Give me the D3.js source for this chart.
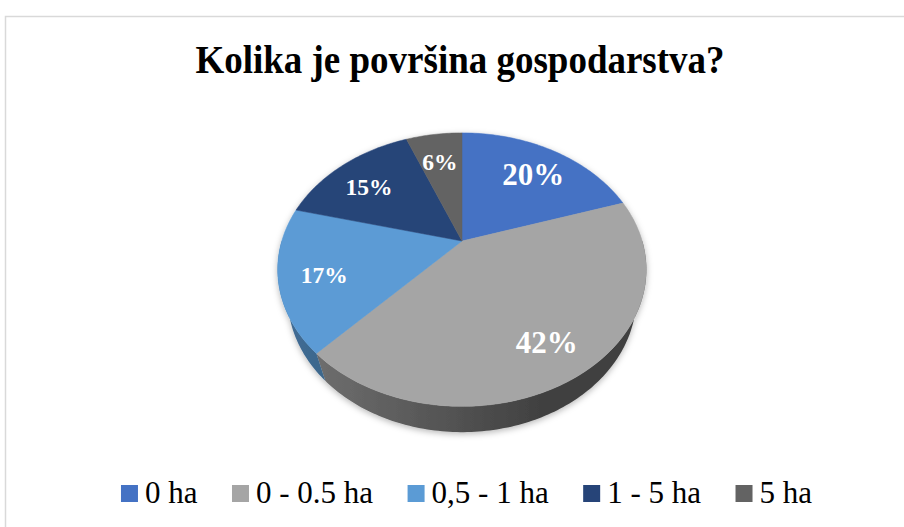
<!DOCTYPE html>
<html>
<head>
<meta charset="utf-8">
<script src="https://cdn.jsdelivr.net/npm/d3@7/dist/d3.min.js"></script>
<style>
  html, body { margin: 0; padding: 0; background: #fff; }
  svg { display: block; }
</style>
</head>
<body>
<svg id="chart" width="904" height="527"></svg>
<script>
// Farm size categories and their shares (percent)
const categories = ["0 ha", "0 - 0.5 ha", "0,5 - 1 ha", "1 - 5 ha", "5 ha"];
const shares = [20, 42, 17, 15, 6];
const colors = ["#4472C4", "#A5A5A5", "#5B9BD5", "#264478", "#636363"];
const title = "Kolika je površina gospodarstva?";

const svg = d3.select("#chart");
const W = 904, H = 527;
const serif = "'Liberation Serif', 'Times New Roman', serif";

// chart-area frame
svg.append("rect")
  .attr("x", 5.5).attr("y", 16.5)
  .attr("width", W + 10).attr("height", H + 10)
  .attr("fill", "#fff").attr("stroke", "#d9d9d9").attr("stroke-width", 1.5);

// title (slightly tall glyphs)
svg.append("text")
  .attr("transform", "translate(460,73) scale(1,1.06)")
  .attr("text-anchor", "middle")
  .attr("font-family", serif)
  .attr("font-weight", "bold")
  .attr("font-size", 37)
  .attr("fill", "#000")
  .text(title);

// --- 3D pie: a tilted disc seen in perspective ---
const view = {
  cx: 462, cy: 241,      // screen position of the disc centre
  k: 593,                // focal scale
  tilt: 46.5 * Math.PI / 180,
  dist: 3.29,            // camera distance (disc radius = 1)
  depth: 0.249           // thickness of the disc
};
const sT = Math.sin(view.tilt), cT = Math.cos(view.tilt);

// angle a measured clockwise from the back (top), radius r, height w
function project(a, r, w) {
  const u = r * Math.sin(a), v = r * Math.cos(a);
  const yc = v * sT + w * cT;
  const zc = view.dist + v * cT - w * sT;
  return [view.cx + view.k * u / zc, view.cy - view.k * yc / zc];
}

const pie = d3.pie().sort(null).value(d => d.value);
const data = categories.map((c, i) => ({ name: c, value: shares[i], color: colors[i] }));
const arcs = pie(data);

const defs = svg.append("defs");
const shadow = defs.append("filter").attr("id", "pieShadow")
  .attr("x", "-10%").attr("y", "-10%").attr("width", "120%").attr("height", "130%");
shadow.append("feDropShadow")
  .attr("dx", 0).attr("dy", 2).attr("stdDeviation", 3)
  .attr("flood-color", "#000").attr("flood-opacity", 0.28);

const pieG = svg.append("g").attr("filter", "url(#pieShadow)");

function sampleAngles(a0, a1) {
  const n = Math.max(2, Math.ceil((a1 - a0) / (Math.PI / 180)));
  return d3.range(n + 1).map(i => a0 + (a1 - a0) * i / n);
}

// side walls: only the front half of the rim is visible
const frontStart = Math.PI / 2, frontEnd = 3 * Math.PI / 2;
arcs.forEach((d, i) => {
  const a0 = Math.max(d.startAngle, frontStart);
  const a1 = Math.min(d.endAngle, frontEnd);
  if (a1 <= a0) return;
  const angles = sampleAngles(a0, a1);
  const top = angles.map(a => project(a, 1, 0));
  const bottom = angles.map(a => project(a, 1, -view.depth)).reverse();
  const gid = "wall" + i;
  const base = d3.color(d.data.color);
  const grad = defs.append("linearGradient").attr("id", gid)
    .attr("gradientUnits", "userSpaceOnUse")
    .attr("x1", 300).attr("y1", 0).attr("x2", 540).attr("y2", 0);
  grad.append("stop").attr("offset", 0).attr("stop-color", base.darker(1.05).formatHex());
  grad.append("stop").attr("offset", 1).attr("stop-color", base.darker(2.6).formatHex());
  pieG.append("path")
    .attr("d", d3.line()(top.concat(bottom)) + "Z")
    .attr("fill", `url(#${gid})`);
});

// top faces
arcs.forEach(d => {
  const pts = [project(0, 0, 0)].concat(sampleAngles(d.startAngle, d.endAngle).map(a => project(a, 1, 0)));
  pieG.append("path")
    .attr("d", d3.line()(pts) + "Z")
    .attr("fill", d.data.color)
    .attr("stroke", d.data.color).attr("stroke-width", 0.5);
});

// percentage labels
arcs.forEach(d => {
  const mid = (d.startAngle + d.endAngle) / 2;
  const [x, y] = project(mid, 0.76, 0);
  const big = d.data.value >= 20;
  svg.append("text")
    .attr("x", x).attr("y", y + 5)
    .attr("text-anchor", "middle")
    .attr("dominant-baseline", "central")
    .attr("font-family", serif)
    .attr("font-weight", "bold")
    .attr("font-size", big ? 31 : 23.5)
    .attr("fill", "#fff")
    .text(d.data.value + "%");
});

// legend
const legend = svg.append("g");
const sq = 17, txtGap = 7, itemGap = 34.5;
let lx = 0;
categories.forEach((c, i) => {
  const g = legend.append("g").attr("transform", `translate(${lx},0)`);
  g.append("rect").attr("x", 0).attr("y", 485).attr("width", sq).attr("height", sq)
    .attr("fill", colors[i]);
  const t = g.append("text")
    .attr("x", sq + txtGap).attr("y", 503)
    .attr("font-family", serif)
    .attr("font-size", 31)
    .attr("fill", "#000")
    .text(c);
  lx += sq + txtGap + t.node().getComputedTextLength() + itemGap;
});
const legendWidth = lx - itemGap;
legend.attr("transform", `translate(${466.5 - legendWidth / 2},0)`);
</script>
</body>
</html>
